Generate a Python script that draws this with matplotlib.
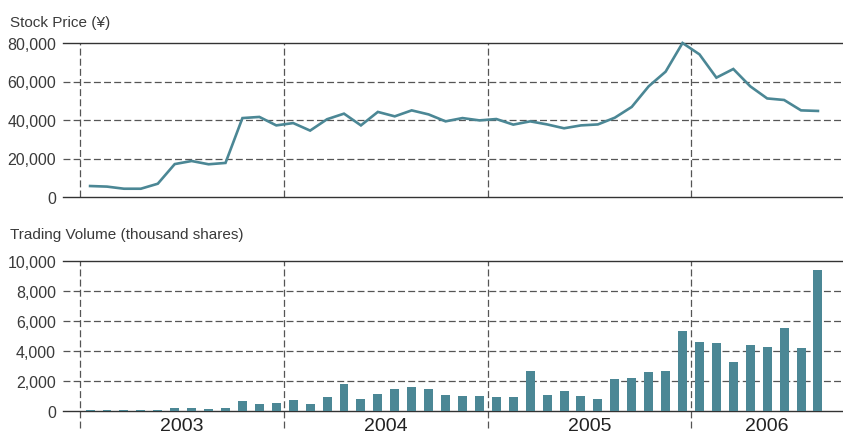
import numpy as np
import matplotlib
matplotlib.use("Agg")
import matplotlib.pyplot as plt
import matplotlib.transforms as mtransforms

plt.rcParams['font.family'] = ['Liberation Sans', 'DejaVu Sans']
plt.rcParams['lines.scale_dashes'] = False

# ---- data (monthly, Jan 2003 .. Aug 2006) ----
price = [5700, 5400, 4300, 4300, 6900, 17100, 18700, 17000, 17700, 41000, 41600, 37200,
         38400, 34500, 40400, 43300, 37200, 44200, 41900, 45000, 42900, 39300, 41000, 39800,
         40500, 37600, 39300, 37700, 35700, 37200, 37700, 41200, 46800, 57500, 65100, 80000,
         74100, 62000, 66500, 57500, 51200, 50400, 45000, 44700]
volume = [80, 80, 80, 80, 80, 220, 220, 150, 220, 690, 480, 530,
          750, 490, 950, 1820, 820, 1150, 1490, 1620, 1490, 1090, 1020, 1020,
          950, 950, 2680, 1090, 1350, 1020, 820, 2150, 2220, 2620, 2680, 5340,
          4610, 4550, 3280, 4410, 4280, 5540, 4210, 9400]
years = ['2003', '2004', '2005', '2006']
price_ticks = [0, 20000, 40000, 60000, 80000]
volume_ticks = [0, 2000, 4000, 6000, 8000, 10000]

months = np.arange(len(price))
year_bounds = [-0.6, 11.45, 23.5, 35.5]
xlim = (-1.6, 44.48)

COLOR = '#4b8795'
GRID = '#555555'
DASH = (0, (5, 2.3))

W, H = 843, 435
fig = plt.figure(figsize=(W / 100, H / 100), dpi=100)

def px_axes(left, top, right, bottom):
    return fig.add_axes([left / W, 1 - bottom / H, (right - left) / W, (bottom - top) / H])

ax1 = px_axes(63, 44, 843, 198)
ax2 = px_axes(63, 262, 843, 412)

def style(ax, ticks, ymax):
    ax.set_xlim(*xlim)
    ax.set_ylim(0, ymax)
    ax.set_yticks(ticks)
    ax.set_yticklabels([f"{t:,}" for t in ticks])
    ax.set_xticks([])
    for s in ['left', 'right']:
        ax.spines[s].set_visible(False)
    for s in ['top', 'bottom']:
        ax.spines[s].set_color('#333333')
        ax.spines[s].set_linewidth(1.0)
    ax.tick_params(axis='y', length=0, pad=5, labelsize=11.5, labelcolor='#3a3a3a')
    for t in ticks[1:-1]:
        ax.axhline(t, color=GRID, lw=0.9, ls=DASH, zorder=0)

style(ax1, price_ticks, 80000)
style(ax2, volume_ticks, 10000)

ax1.plot(months, price, color=COLOR, lw=1.9, zorder=3, clip_on=False, solid_joinstyle='miter')
ax2.bar(months, volume, width=0.53, color=COLOR, zorder=3)

for b in year_bounds:
    ax1.axvline(b, color=GRID, lw=0.9, ls=DASH, zorder=0)
    tr = mtransforms.blended_transform_factory(ax2.transData, ax2.transAxes)
    ax2.plot([b, b], [-0.11, 1], transform=tr, color=GRID, lw=0.9, ls=DASH,
             zorder=0, clip_on=False)

edges = year_bounds[1:] + [xlim[1]]
tr = mtransforms.blended_transform_factory(ax2.transData, ax2.transAxes)
for y, a, b in zip(years, year_bounds, edges):
    ax2.text((a + b) / 2, -0.1, y, transform=tr, ha='center', va='center',
             fontsize=14, color='#222222')

fig.text(10 / W, 1 - 27.5 / H, 'Stock Price (¥)', ha='left', va='baseline',
         fontsize=11, color='#3a3a3a')
fig.text(10 / W, 1 - 239 / H, 'Trading Volume (thousand shares)', ha='left',
         va='baseline', fontsize=11, color='#3a3a3a')

fig.savefig('out.png', dpi=100)
